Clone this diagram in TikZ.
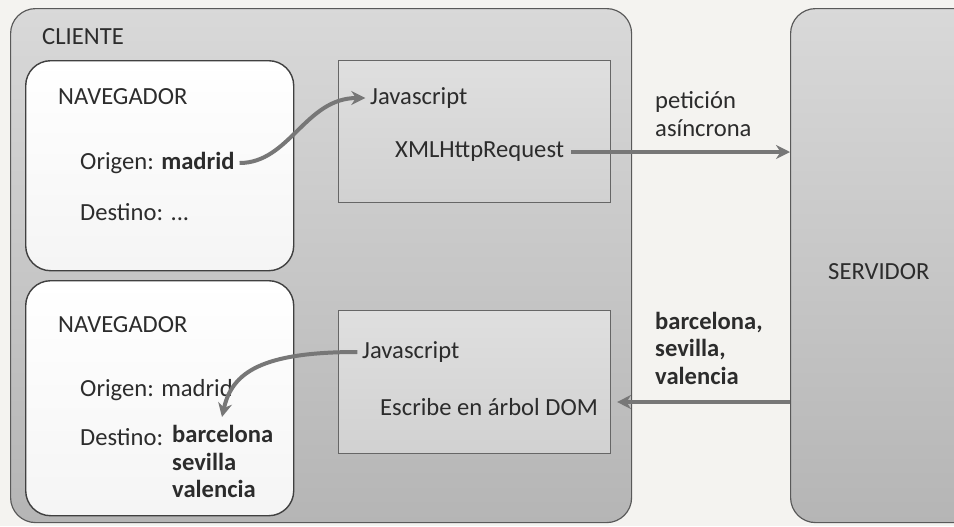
\documentclass[tikz,border=0pt]{standalone}
\usepackage{fontspec}
\setmainfont{Carlito}
\usepackage{tikz}
\usetikzlibrary{arrows.meta, positioning}

\definecolor{paper}{HTML}{F4F3F0}
\definecolor{ink}{HTML}{2C2C2C}
\definecolor{wire}{HTML}{777777}

\begin{document}
\begin{tikzpicture}[
    x=0.03cm, y=-0.03cm,
    zone/.style={rectangle, draw=black!65, line width=1pt, rounded corners=0.75cm, top color=gray!30, bottom color=gray!58, anchor=north west},
    browser/.style={rectangle, draw=black!75, line width=1.2pt, rounded corners=0.75cm, top color=white, bottom color=gray!8, anchor=north west},
    script/.style={rectangle, draw=black!60, line width=1pt, top color=gray!25, bottom color=gray!36, anchor=north west},
    txt/.style={anchor=west, inner sep=0pt, text=ink, font=\fontsize{21}{23.5}\selectfont, align=left},
    flow/.style={-{Stealth[length=0.42cm, width=0.42cm]}, line width=3.4pt, draw=wire}
]
\useasboundingbox[fill=paper] (0,0) rectangle (954,526);

% Cliente y servidor
\node[zone, minimum width=18.63cm, minimum height=15.42cm] (client) at (10,8) {};
\node[zone, minimum width=7.5cm, minimum height=15.42cm] (server) at (790,8) {};
\node[txt] (clientlbl) at (42,37) {CLIENTE};
\node[txt] (serverlbl) at (828,272) {SERVIDOR};

% Navegadores
\node[browser, minimum width=8.04cm, minimum height=6.3cm] (nav1) at (25,60) {};
\node[browser, minimum width=8.04cm, minimum height=7.05cm] (nav2) at (25,280) {};

% Bloques Javascript
\node[script, minimum width=8.16cm, minimum height=4.26cm] (js1) at (338,60) {};
\node[script, minimum width=8.16cm, minimum height=4.29cm] (js2) at (338,310) {};

% Primer navegador
\node[txt] (navlbl1) at (58,97) {NAVEGADOR};
\node[txt] (orig1) at (80,163) {Origen: \textbf{madrid}};
\node[txt] (dest1) at (80,212) {Destino: ...};
\node[txt] (jslbl1) at (370,98) {Javascript};
\node[txt] (xhr) at (395,152) {XMLHttpRequest};

% Segundo navegador
\node[txt] (navlbl2) at (58,325) {NAVEGADOR};
\node[txt] (orig2) at (80,390) {Origen: madrid};
\node[txt] (dest2) at (80,437) {Destino:};
\node[txt, anchor=north west] (cities) at (172,425) {\textbf{barcelona}\\\textbf{sevilla}\\\textbf{valencia}};
\node[txt] (jslbl2) at (362,352) {Javascript};
\node[txt] (dom) at (380,407) {Escribe en árbol DOM};
\coordinate (land) at (222,417);

% Mensajes
\node[txt] (req) at (655,114) {petición\\asíncrona};
\node[txt] (resp) at (655,348) {\textbf{barcelona,}\\\textbf{sevilla,}\\\textbf{valencia}};

% Conexiones
\draw[flow] ([xshift=4pt]orig1.east) .. controls +(50,0) and +(-60,0) .. ([xshift=-4pt]jslbl1.west);
\draw[flow] ([xshift=6pt]xhr.east) -- (xhr.east -| server.west);
\draw[flow] (server.west |- 0,402) -- ([xshift=5pt]js2.east |- 0,402);
\draw[flow] ([xshift=-4pt]jslbl2.west) .. controls +(-95,0) and +(10,-45) .. (land);

\end{tikzpicture}
\end{document}
